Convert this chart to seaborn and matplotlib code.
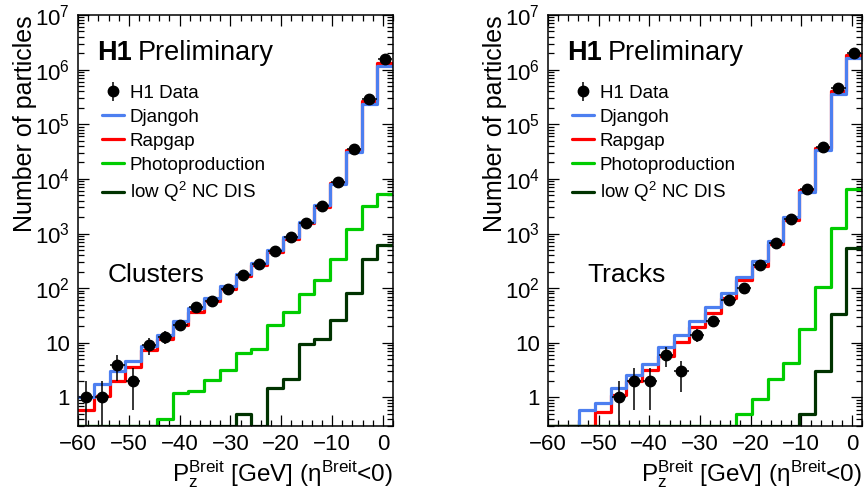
import numpy as np
import pandas as pd
import matplotlib
matplotlib.use("Agg")
import matplotlib.pyplot as plt
import seaborn as sns
from matplotlib.ticker import MultipleLocator, FixedLocator, FuncFormatter, NullFormatter

# bins: 20 bins of P_z^Breit from -60 to 2 GeV
n_bins = 20
pz_range = (-60, 2)
bin_edges = np.linspace(pz_range[0], pz_range[1], n_bins + 1)

# Clusters
data_cl = [1, 1, 4, 2, 9, 13, 21, 45, 57, 96, 173, 279, 487, 855, 1580, 3230, 8600, 35000, 286000, 1.55e6]
djangoh_cl = [1.0, 1.73, 3.0, 4.6, 8.9, 14.1, 24.7, 43, 66, 108, 181, 294, 500, 875, 1600, 3320, 7940, 30600, 236000, 1.17e6]
rapgap_cl = [0.58, 1.06, 2.0, 3.57, 7.5, 11.9, 20.9, 36.6, 59, 97, 168, 268, 465, 800, 1530, 3090, 8500, 33600, 265000, 1.34e6]
photo_cl = [0, 0, 0, 0, 0, 0.41, 1.22, 1.29, 2.07, 3.24, 6.5, 7.7, 20.9, 36.6, 78, 142, 340, 1200, 3200, 5400]
lowq2_cl = [0, 0, 0, 0, 0, 0, 0, 0, 0, 0, 0.5, 0, 1.5, 2.13, 9.7, 11.8, 25.7, 81, 340, 620]

# Tracks
data_tr = [np.nan, np.nan, np.nan, np.nan, 1, 2, 2, 6, 3, 14, 25, 61, 100, 265, 660, 1850, 6600, 38500, 468000, 2.03e6]
djangoh_tr = [0, 0, 0.59, 0.8, 1.46, 2.55, 4.17, 8.4, 14, 25, 46, 83, 159, 320, 740, 1970, 5800, 33500, 363000, 1.65e6]
rapgap_tr = [0, 0, 0, 0.53, 1.13, 2.0, 3.15, 5.7, 10.4, 19.5, 35, 66, 142, 257, 645, 1770, 6300, 36000, 405000, 1.89e6]
photo_tr = [0, 0, 0, 0, 0, 0, 0, 0, 0, 0, 0, 0, 0.49, 0.92, 2.2, 4.3, 18, 103, 1280, 6500]
lowq2_tr = [0, 0, 0, 0, 0, 0, 0, 0, 0, 0, 0, 0, 0, 0, 0, 0, 0.49, 3.0, 33.8, 550]

labels = ["H1 Data", "Djangoh", "Rapgap", "Photoproduction", "low Q$^{2}$ NC DIS"]
colors = {"Djangoh": "#4d7ff0", "Rapgap": "#ff0000", "Photoproduction": "#00cc00", "low Q$^{2}$ NC DIS": "#003300"}

sns.set_style("ticks")
plt.rcParams["font.family"] = ["Liberation Sans", "DejaVu Sans"]
plt.rcParams["mathtext.fontset"] = "custom"
plt.rcParams["mathtext.rm"] = "Liberation Sans"
plt.rcParams["mathtext.it"] = "Liberation Sans:italic"
plt.rcParams["mathtext.bf"] = "Liberation Sans:bold"
plt.rcParams["axes.linewidth"] = 1.1
for key in ["text.color", "axes.labelcolor", "xtick.color", "ytick.color", "axes.edgecolor"]:
    plt.rcParams[key] = "black"

ylo, yhi = 0.3, 1e7
centers = 0.5 * (bin_edges[:-1] + bin_edges[1:])
major_y = [10.0 ** k for k in range(0, 8)]
minor_y = [m * 10.0 ** k for k in range(-1, 7) for m in range(2, 10) if ylo <= m * 10.0 ** k <= yhi]


def yfmt(v, pos):
    if abs(v - 1) < 1e-9:
        return "1"
    if abs(v - 10) < 1e-9:
        return "10"
    return "$10^{%d}$" % round(np.log10(v))


def draw_panel(ax, data, djangoh, rapgap, photo, lowq2, tag, tag_x):
    ax.set_yscale("log")
    mc = [("Rapgap", rapgap), ("Djangoh", djangoh), ("Photoproduction", photo), ("low Q$^{2}$ NC DIS", lowq2)]
    for name, vals in mc:
        vals = np.array(vals, dtype=float)
        vals = np.where(vals > 0, vals, ylo)
        df = pd.DataFrame({"pz": centers, "n": vals})
        sns.histplot(data=df, x="pz", weights="n", bins=n_bins, binrange=pz_range, element="step",
                     fill=False, color=colors[name], linewidth=2.3, ax=ax)
    d = np.array(data, dtype=float)
    err = np.sqrt(d)
    ax.errorbar(centers, d, yerr=err, xerr=1.4, fmt="o", color="black",
                markersize=7.5, elinewidth=1.1, capsize=0, zorder=5)

    ax.set_xlim(*pz_range)
    ax.set_ylim(ylo, yhi)
    ax.xaxis.set_major_locator(MultipleLocator(10))
    ax.xaxis.set_minor_locator(MultipleLocator(2))
    ax.yaxis.set_major_locator(FixedLocator(major_y))
    ax.yaxis.set_minor_locator(FixedLocator(minor_y))
    ax.yaxis.set_major_formatter(FuncFormatter(yfmt))
    ax.yaxis.set_minor_formatter(NullFormatter())
    ax.tick_params(which="both", direction="in", top=True, right=True, width=0.9, labelsize=16)
    ax.tick_params(which="major", length=8, pad=6)
    ax.tick_params(which="minor", length=4)

    ax.set_xlabel("P$_{\\mathrm{z}}^{\\mathrm{Breit}}$ [GeV] (η$^{\\mathrm{Breit}}$<0)",
                  fontsize=17.5, loc="right", labelpad=2)
    ax.set_ylabel("Number of particles", fontsize=18, loc="top", labelpad=-2)

    ax.text(0.062, 0.89, "H1", transform=ax.transAxes, fontsize=19.5, fontweight="bold", va="baseline")
    ax.text(0.189, 0.89, "Preliminary", transform=ax.transAxes, fontsize=19.5, va="baseline")
    ax.text(tag_x, 0.35, tag, transform=ax.transAxes, fontsize=19, va="baseline")

    h_data = ax.errorbar([], [], yerr=[], fmt="o", color="black", markersize=7.5, elinewidth=1.1)
    handles = [h_data] + [plt.Line2D([], [], color=colors[n], linewidth=2.3) for n in labels[1:]]
    ax.legend(handles, labels, loc="upper left", bbox_to_anchor=(0.075, 0.83), frameon=False,
              fontsize=13.5, borderpad=0, borderaxespad=0, handlelength=1.2,
              handletextpad=0.3, labelspacing=0.36)


fig = plt.figure(figsize=(8.65, 5.01), dpi=100)
ax1 = fig.add_axes([0.0902, 0.1497, 0.3642, 0.8204])
ax2 = fig.add_axes([0.6335, 0.1497, 0.3630, 0.8204])

draw_panel(ax1, data_cl, djangoh_cl, rapgap_cl, photo_cl, lowq2_cl, "Clusters", 0.095)
draw_panel(ax2, data_tr, djangoh_tr, rapgap_tr, photo_tr, lowq2_tr, "Tracks", 0.124)

fig.savefig("out.png", dpi=100)
